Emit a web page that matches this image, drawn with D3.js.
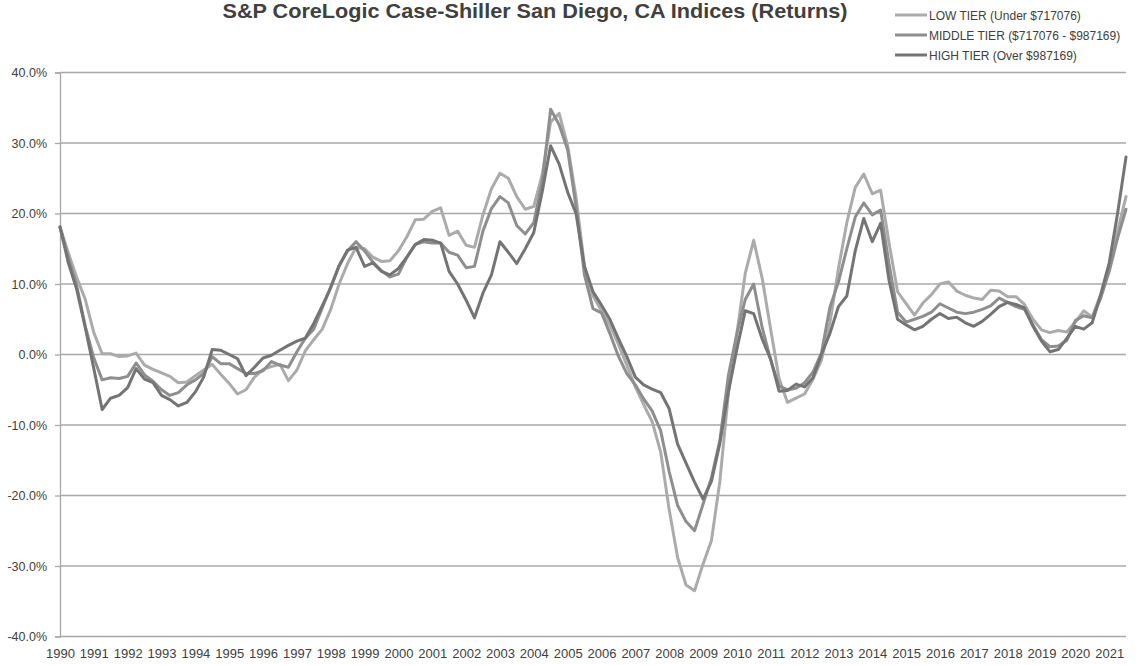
<!DOCTYPE html>
<html>
<head>
<meta charset="utf-8">
<script src="https://cdn.jsdelivr.net/npm/d3@7"></script>
<style>
  html, body { margin: 0; padding: 0; background: #fff; }
  svg { display: block; }
  text { font-family: "Liberation Sans", Arial, sans-serif; fill: #404040; }
</style>
</head>
<body>
<svg id="chart" width="1139" height="665"></svg>
<script>
// ---- Data (quarterly samples, Jan 1990 .. Jul 2021), annual returns in % ----
const startYear = 1990, startMonth = 0, stepMonths = 3;

const seriesNames = [
  "LOW TIER (Under $717076)",
  "MIDDLE TIER ($717076 - $987169)",
  "HIGH TIER (Over $987169)"
];

const lowTier = [
  18.1, 14.4, 10.9, 7.8, 3.1, 0.1, 0.1, -0.3, -0.2, 0.2, -1.5, -2.1, -2.6, -3.1, -4.0, -3.9,
  -3.0, -2.2, -1.4, -2.8, -4.1, -5.6, -5.0, -3.2, -2.1, -1.7, -1.4, -3.7, -2.2, 0.5, 2.1, 3.6,
  6.4, 10.0, 12.9, 15.2, 15.0, 13.8, 13.2, 13.3, 14.7, 16.7, 19.1, 19.2, 20.3, 20.8, 16.9, 17.5,
  15.5, 15.2, 19.8, 23.5, 25.7, 25.0, 22.4, 20.6, 21.0, 25.5, 33.0, 34.2, 29.6, 22.3, 12.5, 8.3,
  6.2, 4.2, 1.5, -1.5, -4.6, -7.1, -9.5, -13.8, -22.0, -28.8, -32.7, -33.5, -29.7, -26.4, -18.0, -5.5,
  3.0, 11.5, 16.2, 10.8, 3.5, -3.4, -6.8, -6.2, -5.6, -3.5, -0.8, 4.5, 12.2, 18.7, 23.7, 25.6,
  22.8, 23.3, 15.8, 8.9, 7.2, 5.6, 7.3, 8.5, 10.0, 10.3, 9.0, 8.4, 8.0, 7.8, 9.1, 9.0,
  8.2, 8.2, 7.1, 5.0, 3.5, 3.1, 3.4, 3.2, 4.6, 6.2, 5.3, 8.5, 12.6, 17.5, 22.4
];

const middleTier = [
  18.1, 13.7, 9.7, 4.0, -0.5, -3.6, -3.3, -3.4, -3.1, -1.2, -2.9, -3.8, -5.0, -5.8, -5.4, -4.3,
  -3.6, -2.7, -0.3, -1.3, -1.3, -2.0, -2.7, -2.7, -2.3, -1.0, -1.5, -1.8, 0.4, 2.3, 3.6, 6.6,
  9.6, 12.6, 14.7, 16.0, 14.7, 13.1, 11.9, 11.0, 11.4, 13.8, 15.6, 16.0, 15.8, 15.8, 14.5, 14.1,
  12.3, 12.5, 17.5, 20.7, 22.4, 21.5, 18.3, 17.1, 18.7, 24.5, 34.8, 32.6, 29.0, 21.0, 11.3, 6.5,
  5.9, 3.0, -0.2, -2.7, -4.3, -6.3, -8.0, -10.8, -16.6, -21.4, -23.7, -25.0, -21.2, -17.5, -12.2, -3.0,
  3.0, 7.8, 10.0, 3.8, -0.8, -4.5, -5.0, -4.8, -4.0, -2.5, 0.2, 6.7, 10.3, 15.0, 19.5, 21.5,
  19.8, 20.5, 12.8, 6.0, 4.6, 5.0, 5.4, 6.0, 7.2, 6.6, 6.0, 5.8, 6.0, 6.4, 6.9, 8.0,
  7.4, 6.8, 6.4, 4.2, 2.1, 1.1, 1.2, 2.0, 4.8, 5.5, 5.2, 8.0, 11.8, 16.5, 20.6
];

const highTier = [
  18.1, 13.0, 9.2, 3.8, -2.0, -7.8, -6.2, -5.8, -4.7, -2.0, -3.5, -4.0, -5.8, -6.4, -7.3, -6.8,
  -5.3, -3.2, 0.7, 0.6, 0.0, -0.6, -3.0, -1.8, -0.5, -0.1, 0.6, 1.3, 1.9, 2.3, 4.4, 6.9,
  9.5, 12.6, 14.8, 15.2, 12.5, 13.0, 11.8, 11.3, 12.2, 13.8, 15.6, 16.3, 16.2, 15.8, 11.8, 10.0,
  7.7, 5.2, 8.7, 11.3, 16.0, 14.5, 12.9, 15.0, 17.3, 23.1, 29.6, 27.0, 23.0, 20.0, 12.5, 8.9,
  7.0, 5.0, 2.3, -0.3, -3.2, -4.3, -4.9, -5.4, -7.7, -12.7, -15.4, -18.1, -20.5, -18.0, -12.6, -5.3,
  0.8, 6.2, 5.8, 2.2, -0.7, -5.2, -5.1, -4.2, -4.6, -3.3, 0.0, 3.0, 6.8, 8.3, 14.7, 19.3,
  16.0, 18.6, 10.5, 5.0, 4.2, 3.5, 4.0, 5.0, 5.8, 5.1, 5.3, 4.5, 4.0, 4.7, 5.7, 6.8,
  7.4, 7.1, 6.6, 4.0, 1.9, 0.4, 0.7, 2.3, 4.0, 3.6, 4.5, 8.5, 13.0, 20.0, 28.0
];

const yTicks = [-40, -30, -20, -10, 0, 10, 20, 30, 40];
const yearLabels = [1990, 1991, 1992, 1993, 1994, 1995, 1996, 1997, 1998, 1999, 2000, 2001,
  2002, 2003, 2004, 2005, 2006, 2007, 2008, 2009, 2010, 2011, 2012, 2013, 2014, 2015, 2016,
  2017, 2018, 2019, 2020, 2021];

const titleText = "S&P CoreLogic Case-Shiller San Diego, CA Indices (Returns)";

// ---- Build ----
(function () {
const dates = lowTier.map((_, i) => new Date(startYear, startMonth + i * stepMonths, 1));
const series = [
  { name: seriesNames[0], values: lowTier, color: "#ababab" },
  { name: seriesNames[1], values: middleTier, color: "#8e8e8e" },
  { name: seriesNames[2], values: highTier, color: "#747474" }
];

const svg = d3.select("#chart");
const pLeft = 60, pRight = 1126, pTop = 72.5, pBottom = 636.5;

const x = d3.scaleTime()
  .domain([dates[0], dates[dates.length - 1]])
  .range([pLeft, pRight]);
const y = d3.scaleLinear().domain([-40, 40]).range([pBottom, pTop]);

// gridlines
svg.append("g").selectAll("line")
  .data(yTicks)
  .join("line")
  .attr("x1", pLeft).attr("x2", pRight)
  .attr("y1", d => y(d)).attr("y2", d => y(d))
  .attr("stroke", "#a8a8a8")
  .attr("stroke-width", 1.3);

// y axis
const yAxis = svg.append("g")
  .attr("transform", `translate(${pLeft},0)`)
  .call(d3.axisLeft(y).tickValues(yTicks).tickSize(5).tickPadding(8)
    .tickFormat(d => d.toFixed(1) + "%"));
yAxis.select(".domain").attr("stroke", "#a8a8a8").attr("stroke-width", 1.3);
yAxis.selectAll(".tick line").attr("stroke", "#a8a8a8").attr("stroke-width", 1.3);
yAxis.selectAll(".tick text")
  .style("font-family", '"Liberation Sans", Arial, sans-serif')
  .style("font-size", "12.5px").attr("fill", "#404040");

// x axis labels
const xAxis = svg.append("g")
  .attr("transform", `translate(0,${pBottom})`)
  .call(d3.axisBottom(x)
    .tickValues(yearLabels.map(yr => new Date(yr, 0, 1)))
    .tickSize(0).tickPadding(12)
    .tickFormat(d3.timeFormat("%Y")));
xAxis.select(".domain").remove();
xAxis.selectAll(".tick text")
  .style("font-family", '"Liberation Sans", Arial, sans-serif')
  .style("font-size", "13px").attr("fill", "#404040");

// lines
const line = d3.line()
  .x((d, i) => x(dates[i]))
  .y(d => y(d));

svg.append("g").selectAll("path")
  .data(series)
  .join("path")
  .attr("d", s => line(s.values))
  .attr("fill", "none")
  .attr("stroke", s => s.color)
  .attr("stroke-width", 3)
  .attr("stroke-linejoin", "round")
  .attr("stroke-linecap", "round");

// title
svg.append("text")
  .attr("x", 535).attr("y", 18)
  .attr("text-anchor", "middle")
  .attr("textLength", 625)
  .attr("lengthAdjust", "spacingAndGlyphs")
  .style("font-size", "21px")
  .style("font-weight", "bold")
  .attr("fill", "#111111")
  .text(titleText);

// legend
const legend = svg.append("g");
series.forEach((s, i) => {
  const cy = 15 + i * 20;
  legend.append("line")
    .attr("x1", 895).attr("x2", 927)
    .attr("y1", cy).attr("y2", cy)
    .attr("stroke", s.color).attr("stroke-width", 3);
  legend.append("text")
    .attr("x", 929).attr("y", cy + 4.5)
    .style("font-size", "12px")
    .attr("fill", "#404040")
    .text(s.name);
});
})();
</script>
</body>
</html>
